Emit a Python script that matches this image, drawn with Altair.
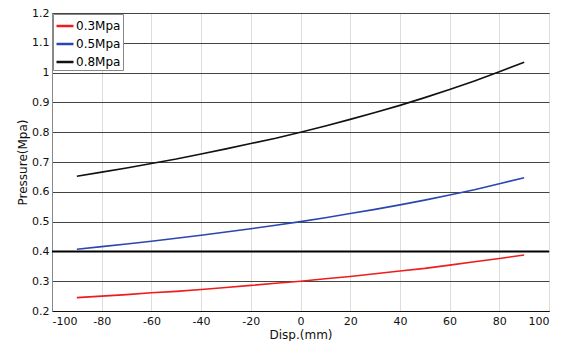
import altair as alt
import pandas as pd

disp = [-90, -80, -70, -60, -50, -40, -30, -20, -10, 0, 10, 20, 30, 40, 50, 60, 70, 80, 90]
p03 = [0.245, 0.250, 0.255, 0.261, 0.266, 0.272, 0.279, 0.286, 0.293, 0.300, 0.308, 0.316, 0.325, 0.334, 0.343, 0.354, 0.365, 0.376, 0.388]
p05 = [0.407, 0.416, 0.425, 0.434, 0.444, 0.454, 0.465, 0.476, 0.488, 0.500, 0.513, 0.527, 0.541, 0.556, 0.572, 0.589, 0.607, 0.627, 0.647]
p08 = [0.652, 0.666, 0.680, 0.695, 0.710, 0.727, 0.744, 0.762, 0.780, 0.800, 0.821, 0.843, 0.866, 0.890, 0.916, 0.943, 0.972, 1.003, 1.035]
series = ["0.3Mpa", "0.5Mpa", "0.8Mpa"]
colors = ["#ee1c1c", "#2b46b0", "#111111"]
ref_line = [0.4]
x_ticks = [-100, -80, -60, -40, -20, 0, 20, 40, 60, 80, 100]
y_ticks = [0.2, 0.3, 0.4, 0.5, 0.6, 0.7, 0.8, 0.9, 1.0, 1.1, 1.2]

rows = []
for name, vals in zip(series, [p03, p05, p08]):
    for x, y in zip(disp, vals):
        rows.append({"disp": x, "pressure": y, "series": name})
df = pd.DataFrame(rows)

font = "DejaVu Sans"

x_axis = alt.Axis(title="Disp.(mm)", values=x_ticks, labelOverlap=False,
                  labelExpr="replace(datum.label, '\u2212', '-')",
                  grid=True, gridColor="#dddddd", ticks=False,
                  domainColor="#111111", labelPadding=4, titlePadding=3,
                  labelFont=font, labelFontSize=11, labelColor="#111111",
                  titleFont=font, titleFontSize=12, titleColor="#111111",
                  titleFontWeight="normal")
y_axis = alt.Axis(title="Pressure(Mpa)", values=y_ticks, labelOverlap=False,
                  format="~g", grid=True, gridColor="#444444", ticks=False,
                  domainColor="#888888", labelPadding=3, titlePadding=2,
                  labelFont=font, labelFontSize=11, labelColor="#111111",
                  titleFont=font, titleFontSize=12, titleColor="#111111",
                  titleFontWeight="normal")
x_scale = alt.Scale(domain=[-100, 100], nice=False)
y_scale = alt.Scale(domain=[0.2, 1.2], nice=False, zero=False)

lines = alt.Chart(df).mark_line(strokeWidth=1.6).encode(
    x=alt.X("disp:Q", scale=x_scale, axis=x_axis),
    y=alt.Y("pressure:Q", scale=y_scale, axis=y_axis),
    color=alt.Color("series:N", scale=alt.Scale(domain=series, range=colors),
                    legend=alt.Legend(title=None, orient="none", legendX=1, legendY=1,
                                      symbolType="stroke", symbolStrokeWidth=2.5, symbolSize=289,
                                      labelFontSize=12, labelFont=font, strokeColor="#888888",
                                      fillColor="white", padding=2, rowPadding=2,
                                      labelOffset=1)),
)

rule = alt.Chart(pd.DataFrame({"y": ref_line})).mark_rule(color="black", strokeWidth=2).encode(
    y=alt.Y("y:Q", scale=y_scale, axis=y_axis)
)

chart = alt.layer(rule, lines).properties(
    width=497, height=298,
    autosize=alt.AutoSizeParams(type="none"),
    padding={"left": 44, "top": 5, "right": 15, "bottom": 30},
    background="white",
).configure_view(stroke="#111111", strokeWidth=1)

chart.save("out.html", embed_options={"renderer": "svg", "actions": False})
